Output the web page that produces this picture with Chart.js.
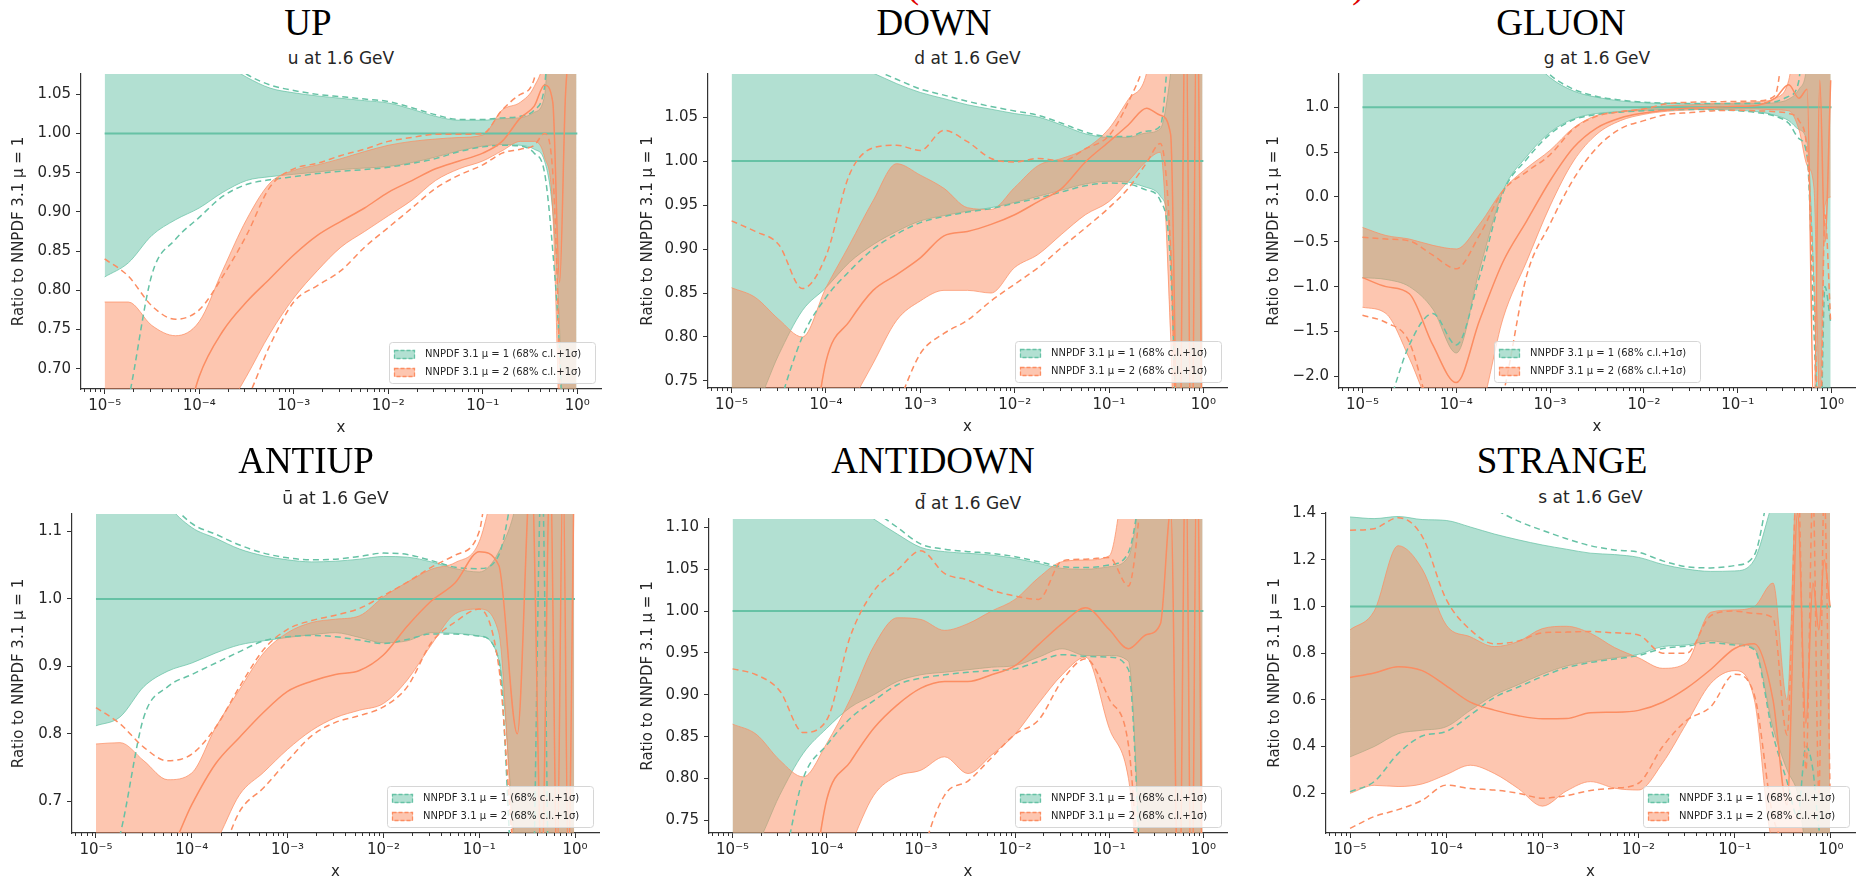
<!DOCTYPE html>
<html>
<head>
<meta charset="utf-8">
<title>NNPDF 3.1 ratios at 1.6 GeV</title>
<script src="https://cdn.jsdelivr.net/npm/chart.js@4.4.1/dist/chart.umd.min.js"></script>
<style>
  html, body { margin: 0; padding: 0; background: #fff; }
  body { position: relative; width: 1860px; height: 880px; overflow: hidden; font-family: "DejaVu Sans", sans-serif; }
  .flavour { position: absolute; font-family: "Liberation Serif", serif; font-size: 37px; line-height: 37px; color: #000; white-space: nowrap; transform: translateX(-50%); }
  .subtitle { position: absolute; font-size: 17px; line-height: 17px; color: #262626; white-space: nowrap; transform: translateX(-50%); }
  .paren { position: absolute; font-family: "Liberation Serif", serif; font-size: 40px; line-height: 40px; color: #e00000; }
  canvas { position: absolute; }
</style>
</head>
<body>
<div class="paren" style="left:906px; top:-36px;">(</div>
<div class="paren" style="left:1352px; top:-36px;">)</div>
<script>
// x values where every ratio is tabulated
const xGrid = [1e-5, 1.78e-5, 3.16e-5, 5.62e-5, 1e-4, 1.78e-4, 3.16e-4, 5.62e-4,
               1e-3, 1.78e-3, 3.16e-3, 5.62e-3, 1e-2, 1.78e-2, 3.16e-2, 5.62e-2,
               0.1, 0.16, 0.25, 0.35, 0.45, 0.55, 0.65, 0.75, 0.85, 0.98];
const xDecades = [1e-5, 1e-4, 1e-3, 1e-2, 1e-1, 1];
const xMin = 5.62e-6, xMax = 1.78;

// reference set is 1 by construction
const refX = [1e-5, 1];
const refRatio = [1, 1];

const flavours = ['UP', 'DOWN', 'GLUON', 'ANTIUP', 'ANTIDOWN', 'STRANGE'];
const subtitles = ['u at 1.6 GeV', 'd at 1.6 GeV', 'g at 1.6 GeV', '\u016b at 1.6 GeV', 'd\u0304 at 1.6 GeV', 's at 1.6 GeV'];
const legendLabels = ['NNPDF 3.1 \u03bc = 1 (68% c.l.+1\u03c3)', 'NNPDF 3.1 \u03bc = 2 (68% c.l.+1\u03c3)'];
const yTitle = 'Ratio to NNPDF 3.1 \u03bc = 1';

const upYTicks = [0.70, 0.75, 0.80, 0.85, 0.90, 0.95, 1.00, 1.05];
const downYTicks = [0.75, 0.80, 0.85, 0.90, 0.95, 1.00, 1.05];
const gluonYTicks = [-2.0, -1.5, -1.0, -0.5, 0.0, 0.5, 1.0];
const antiupYTicks = [0.7, 0.8, 0.9, 1.0, 1.1];
const antidownYTicks = [0.75, 0.80, 0.85, 0.90, 0.95, 1.00, 1.05, 1.10];
const strangeYTicks = [0.2, 0.4, 0.6, 0.8, 1.0, 1.2, 1.4];

// ---- up ----
const upRefHi    = [1.2, 1.2, 1.15, 1.12, 1.1, 1.09, 1.072, 1.058, 1.052, 1.048, 1.045, 1.042, 1.039, 1.031, 1.022, 1.017, 1.017, 1.019, 1.02, 1.027, 1.048, 1.2, 1.2, 1.2, 1.2, 1.2];
const upRefLo    = [0.817, 0.835, 0.87, 0.89, 0.905, 0.925, 0.94, 0.945, 0.948, 0.951, 0.954, 0.956, 0.958, 0.963, 0.970, 0.978, 0.984, 0.986, 0.985, 0.98, 0.965, 0.90, 0.75, 0.5, 0.3, 0.3];
const upRefSigHi = [1.2, 1.2, 1.16, 1.13, 1.11, 1.1, 1.076, 1.062, 1.055, 1.05, 1.047, 1.044, 1.041, 1.033, 1.024, 1.018, 1.018, 1.02, 1.022, 1.03, 1.06, 1.2, 1.2, 1.2, 1.2, 1.2];
const upRefSigLo = [0.55, 0.66, 0.82, 0.865, 0.893, 0.92, 0.935, 0.941, 0.945, 0.949, 0.952, 0.954, 0.957, 0.962, 0.968, 0.977, 0.983, 0.985, 0.984, 0.975, 0.95, 0.85, 0.72, 0.5, 0.3, 0.3];
const upMu2Hi    = [0.785, 0.785, 0.755, 0.742, 0.76, 0.826, 0.89, 0.937, 0.953, 0.96, 0.968, 0.977, 0.985, 0.99, 0.993, 0.995, 0.998, 1.03, 1.04, 1.06, 1.1, 1.2, 1.2, 1.2, 1.2, 1.2];
const upMu2Lo    = [0.5, 0.5, 0.5, 0.55, 0.6, 0.64, 0.69, 0.745, 0.79, 0.825, 0.855, 0.875, 0.895, 0.915, 0.94, 0.955, 0.965, 0.978, 0.99, 0.99, 0.97, 0.9, 0.6, 0.3, 0.3, 0.3];
const upMu2Mid   = [0.5, 0.5, 0.5, 0.58, 0.69, 0.748, 0.785, 0.815, 0.845, 0.87, 0.888, 0.905, 0.925, 0.94, 0.955, 0.965, 0.975, 0.99, 1.02, 1.035, 1.062, 1.04, 0.81, 1.05, 1.1, 1.1];
const upMu2SigHi = [0.84, 0.818, 0.78, 0.763, 0.775, 0.818, 0.87, 0.932, 0.955, 0.962, 0.972, 0.98, 0.99, 0.995, 0.999, 0.999, 1.0, 1.03, 1.05, 1.07, 1.2, 1.2, 1.2, 1.2, 1.2, 1.2];
const upMu2SigLo = [0.5, 0.5, 0.5, 0.5, 0.55, 0.62, 0.66, 0.73, 0.785, 0.806, 0.825, 0.855, 0.88, 0.905, 0.93, 0.947, 0.96, 0.975, 0.98, 0.985, 1.0, 0.95, 0.7, 0.3, 0.3, 0.3];

// ---- down ----
const downRefHi    = [1.2, 1.2, 1.2, 1.15, 1.13, 1.11, 1.1, 1.088, 1.078, 1.071, 1.064, 1.059, 1.054, 1.05, 1.041, 1.031, 1.027, 1.027, 1.032, 1.037, 1.1, 1.2, 1.2, 1.2, 1.2, 1.2];
const downRefLo    = [0.70, 0.72, 0.78, 0.83, 0.856, 0.885, 0.905, 0.92, 0.932, 0.938, 0.943, 0.947, 0.953, 0.96, 0.967, 0.974, 0.977, 0.976, 0.97, 0.96, 0.9, 0.6, 0.5, 0.5, 0.5, 0.5];
const downRefSigHi = [1.2, 1.2, 1.2, 1.16, 1.14, 1.12, 1.105, 1.093, 1.082, 1.075, 1.068, 1.062, 1.057, 1.052, 1.043, 1.033, 1.028, 1.028, 1.034, 1.04, 1.15, 1.2, 1.2, 1.2, 1.2, 1.2];
const downRefSigLo = [0.6, 0.62, 0.72, 0.80, 0.845, 0.875, 0.9, 0.917, 0.93, 0.937, 0.942, 0.946, 0.952, 0.958, 0.965, 0.972, 0.975, 0.974, 0.967, 0.955, 0.88, 0.6, 0.5, 0.5, 0.5, 0.5];
const downMu2Hi    = [0.856, 0.845, 0.82, 0.80, 0.856, 0.905, 0.955, 0.997, 0.984, 0.969, 0.947, 0.945, 0.97, 0.995, 1.003, 1.014, 1.037, 1.07, 1.1, 1.2, 1.2, 1.2, 1.2, 1.2, 1.2, 1.2];
const downMu2Lo    = [0.6, 0.6, 0.6, 0.62, 0.66, 0.72, 0.77, 0.819, 0.841, 0.853, 0.853, 0.85, 0.879, 0.894, 0.917, 0.939, 0.954, 0.977, 1.0, 1.01, 0.8, 0.5, 0.5, 0.5, 0.5, 0.5];
const downMu2Mid   = [0.5, 0.5, 0.5, 0.6, 0.772, 0.818, 0.853, 0.871, 0.89, 0.915, 0.92, 0.928, 0.939, 0.954, 0.969, 0.999, 1.022, 1.041, 1.06, 1.052, 1.03, 0.6, 1.2, 0.6, 1.2, 0.6];
const downMu2SigHi = [0.932, 0.92, 0.905, 0.855, 0.892, 0.985, 1.015, 1.018, 1.012, 1.035, 1.022, 1.003, 0.999, 1.003, 1.0, 1.014, 1.029, 1.067, 1.12, 1.2, 1.2, 1.2, 1.2, 1.2, 1.2, 1.2];
const downMu2SigLo = [0.55, 0.55, 0.55, 0.55, 0.6, 0.62, 0.66, 0.72, 0.781, 0.804, 0.819, 0.841, 0.86, 0.879, 0.902, 0.924, 0.947, 0.969, 0.998, 1.02, 0.9, 0.6, 0.6, 0.6, 0.6, 0.6];

// ---- gluon ----
const gluonRefHi    = [3, 3, 3, 3, 3, 2.5, 2, 1.6, 1.33, 1.18, 1.11, 1.07, 1.05, 1.04, 1.037, 1.037, 1.037, 1.04, 1.05, 1.09, 1.2, 1.5, 3, 3, 3, 3];
const gluonRefLo    = [-0.9, -0.92, -1.0, -1.25, -1.74, -0.8, 0.07, 0.45, 0.72, 0.87, 0.93, 0.95, 0.965, 0.975, 0.98, 0.975, 0.965, 0.95, 0.91, 0.85, 0.75, 0.6, -1.0, -3, -3, -3];
const gluonRefSigHi = [3, 3, 3, 3, 3, 2.6, 2.1, 1.65, 1.36, 1.2, 1.12, 1.08, 1.055, 1.045, 1.04, 1.04, 1.04, 1.045, 1.06, 1.12, 1.3, 3, 3, 3, 3, 3];
const gluonRefSigLo = [-3, -2.4, -1.65, -1.3, -1.65, -0.88, 0.05, 0.42, 0.7, 0.86, 0.92, 0.945, 0.96, 0.97, 0.975, 0.97, 0.96, 0.94, 0.9, 0.82, 0.65, 0.45, -1.5, -3, -1.0, -1.4];
const gluonMu2Hi    = [-0.34, -0.43, -0.47, -0.54, -0.58, -0.3, 0.08, 0.32, 0.52, 0.77, 0.91, 0.95, 0.985, 1.015, 1.025, 1.04, 1.05, 1.06, 1.1, 1.3, 2, 2, 2, 2, 2, 2];
const gluonMu2Lo    = [-1.23, -1.3, -1.8, -2.4, -2.6, -2.4, -1.35, -0.72, -0.1, 0.4, 0.7, 0.85, 0.92, 0.955, 0.97, 0.98, 0.98, 0.98, 0.97, 0.96, 0.75, 0.35, 0.1, -2.3, -0.1, 0.0];
const gluonMu2Mid   = [-0.9, -1.0, -1.08, -1.65, -2.07, -1.37, -0.72, -0.27, 0.18, 0.55, 0.77, 0.88, 0.935, 0.97, 0.99, 1.0, 1.01, 1.02, 1.1, 1.25, 1.1, 1.2, -2.5, 1.3, -0.5, 1.3];
const gluonMu2SigHi = [-0.45, -0.47, -0.49, -0.65, -0.8, -0.42, 0.07, 0.28, 0.47, 0.76, 0.9, 0.95, 0.98, 1.04, 1.055, 1.06, 1.065, 1.07, 1.13, 2, 2, 2, 2, 2, 2, 2];
const gluonMu2SigLo = [-1.32, -1.4, -1.62, -2.5, -3, -3, -2.2, -0.88, -0.3, 0.2, 0.55, 0.76, 0.85, 0.92, 0.94, 0.96, 0.965, 0.96, 0.95, 0.93, 0.85, 0.5, -1.0, -3, -0.2, -1.4];

// ---- antiup ----
const antiupRefHi    = [1.3, 1.3, 1.2, 1.14, 1.106, 1.09, 1.074, 1.064, 1.058, 1.055, 1.056, 1.059, 1.063, 1.062, 1.055, 1.045, 1.04, 1.07, 1.15, 1.3, 1.3, 1.3, 1.3, 1.3, 1.3, 1.3];
const antiupRefLo    = [0.812, 0.825, 0.87, 0.893, 0.905, 0.92, 0.932, 0.938, 0.943, 0.947, 0.95, 0.943, 0.935, 0.938, 0.95, 0.949, 0.945, 0.91, 0.6, 0.5, 0.5, 0.6, 0.6, 0.6, 0.6, 0.6];
const antiupRefSigHi = [1.3, 1.3, 1.22, 1.15, 1.112, 1.096, 1.08, 1.068, 1.061, 1.058, 1.059, 1.063, 1.068, 1.066, 1.057, 1.047, 1.045, 1.065, 1.2, 1.3, 1.3, 1.3, 1.3, 1.3, 1.3, 1.3];
const antiupRefSigLo = [0.55, 0.65, 0.825, 0.87, 0.888, 0.905, 0.922, 0.938, 0.944, 0.946, 0.944, 0.939, 0.934, 0.94, 0.948, 0.948, 0.945, 0.91, 0.5, 0.5, 1.2, 0.5, 0.5, 0.5, 0.5, 0.5];
const antiupMu2Hi    = [0.785, 0.787, 0.76, 0.732, 0.742, 0.81, 0.866, 0.92, 0.95, 0.965, 0.97, 0.975, 1.003, 1.025, 1.044, 1.054, 1.085, 1.2, 1.3, 1.3, 1.3, 1.3, 1.3, 1.3, 1.3, 1.3];
const antiupMu2Lo    = [0.6, 0.6, 0.6, 0.6, 0.6, 0.64, 0.71, 0.743, 0.777, 0.805, 0.824, 0.835, 0.845, 0.88, 0.932, 0.978, 0.985, 0.95, 0.6, 0.6, 0.6, 0.6, 0.6, 0.6, 0.6, 0.6];
const antiupMu2Mid   = [0.55, 0.55, 0.6, 0.62, 0.695, 0.756, 0.795, 0.832, 0.863, 0.878, 0.888, 0.894, 0.917, 0.96, 0.997, 1.024, 1.07, 1.05, 0.8, 1.2, 0.6, 1.2, 0.6, 1.2, 0.6, 1.2];
const antiupMu2SigHi = [0.839, 0.815, 0.78, 0.76, 0.77, 0.81, 0.87, 0.925, 0.955, 0.968, 0.976, 0.986, 1.005, 1.025, 1.047, 1.065, 1.1, 1.3, 1.3, 1.3, 1.3, 1.3, 1.3, 1.3, 1.3, 1.3];
const antiupMu2SigLo = [0.55, 0.55, 0.55, 0.55, 0.55, 0.6, 0.685, 0.72, 0.76, 0.797, 0.817, 0.827, 0.84, 0.87, 0.935, 0.966, 0.985, 0.9, 0.6, 0.6, 0.6, 0.6, 0.6, 0.6, 0.6, 0.6];

// ---- antidown ----
const antidownRefHi    = [1.3, 1.3, 1.25, 1.2, 1.15, 1.13, 1.11, 1.092, 1.076, 1.071, 1.069, 1.067, 1.063, 1.057, 1.051, 1.05, 1.053, 1.065, 1.2, 1.3, 1.3, 1.3, 1.3, 1.3, 1.3, 1.3];
const antidownRefLo    = [0.7, 0.72, 0.78, 0.83, 0.86, 0.885, 0.9, 0.916, 0.924, 0.927, 0.93, 0.933, 0.935, 0.945, 0.955, 0.947, 0.947, 0.94, 0.6, 0.6, 0.6, 0.6, 0.6, 0.6, 0.6, 0.6];
const antidownRefSigHi = [1.3, 1.3, 1.26, 1.22, 1.17, 1.14, 1.12, 1.1, 1.08, 1.074, 1.071, 1.069, 1.065, 1.059, 1.053, 1.052, 1.055, 1.07, 1.2, 1.3, 1.3, 1.3, 1.3, 1.3, 1.3, 1.3];
const antidownRefSigLo = [0.6, 0.62, 0.68, 0.8, 0.84, 0.872, 0.893, 0.912, 0.92, 0.924, 0.927, 0.929, 0.931, 0.94, 0.948, 0.946, 0.945, 0.93, 0.6, 0.6, 0.6, 0.6, 0.6, 0.6, 0.6, 0.6];
const antidownMu2Hi    = [0.865, 0.853, 0.822, 0.802, 0.842, 0.895, 0.958, 0.992, 0.99, 0.977, 0.985, 1.0, 1.014, 1.04, 1.059, 1.061, 1.066, 1.2, 1.3, 1.3, 1.3, 1.3, 1.3, 1.3, 1.3, 1.3];
const antidownMu2Lo    = [0.6, 0.6, 0.6, 0.62, 0.66, 0.72, 0.78, 0.803, 0.81, 0.826, 0.806, 0.828, 0.853, 0.89, 0.924, 0.945, 0.86, 0.8, 0.6, 0.6, 0.6, 0.6, 0.6, 0.6, 0.6, 0.6];
const antidownMu2Mid   = [0.5, 0.5, 0.5, 0.6, 0.775, 0.82, 0.86, 0.888, 0.908, 0.916, 0.916, 0.924, 0.935, 0.96, 0.985, 1.004, 0.978, 0.955, 0.972, 0.985, 1.12, 0.6, 1.2, 0.6, 1.2, 0.6];
const antidownMu2SigHi = [0.931, 0.924, 0.905, 0.855, 0.87, 0.97, 1.024, 1.049, 1.072, 1.045, 1.037, 1.025, 1.018, 1.014, 1.06, 1.062, 1.064, 1.03, 1.2, 1.3, 1.3, 1.3, 1.3, 1.3, 1.3, 1.3];
const antidownMu2SigLo = [0.55, 0.55, 0.55, 0.55, 0.55, 0.55, 0.55, 0.55, 0.7, 0.78, 0.797, 0.825, 0.853, 0.87, 0.917, 0.943, 0.895, 0.84, 0.6, 0.6, 0.6, 0.6, 0.6, 0.6, 0.6, 0.6];

// ---- strange ----
const strangeRefHi    = [1.383, 1.376, 1.385, 1.372, 1.368, 1.34, 1.31, 1.285, 1.263, 1.245, 1.228, 1.222, 1.21, 1.18, 1.16, 1.15, 1.152, 1.2, 1.45, 1.6, 1.6, 1.6, 1.6, 1.6, 1.6, 1.6];
const strangeRefLo    = [0.356, 0.40, 0.455, 0.47, 0.485, 0.555, 0.62, 0.665, 0.71, 0.745, 0.765, 0.78, 0.795, 0.828, 0.835, 0.852, 0.84, 0.82, 0.48, 0.3, 0.2, 0.0, 0.0, 0.0, 0.0, 0.0];
const strangeRefSigHi = [1.8, 1.8, 1.7, 1.6, 1.55, 1.5, 1.42, 1.365, 1.326, 1.29, 1.26, 1.242, 1.232, 1.195, 1.17, 1.165, 1.175, 1.22, 1.6, 1.8, 1.8, 1.8, 1.8, 1.8, 1.8, 1.8];
const strangeRefSigLo = [0.207, 0.25, 0.37, 0.445, 0.465, 0.535, 0.61, 0.655, 0.70, 0.738, 0.76, 0.775, 0.79, 0.82, 0.83, 0.845, 0.835, 0.815, 0.45, 0.25, 0.1, 0.4, 0.3, 0.05, 0.0, 0.0];
const strangeMu2Hi    = [0.9, 0.98, 1.26, 1.16, 0.92, 0.87, 0.828, 0.85, 0.905, 0.915, 0.885, 0.824, 0.78, 0.735, 0.76, 0.975, 0.985, 1.0, 1.1, 0.6, 1.6, 1.6, 1.6, 1.6, 1.6, 1.6];
const strangeMu2Lo    = [0.2, 0.234, 0.229, 0.24, 0.28, 0.32, 0.285, 0.22, 0.145, 0.21, 0.25, 0.222, 0.214, 0.33, 0.5, 0.67, 0.725, 0.6, 0.0, 0.0, 0.0, 0.0, 0.0, 0.0, 0.0, 0.0];
const strangeMu2Mid   = [0.696, 0.715, 0.742, 0.725, 0.66, 0.59, 0.556, 0.532, 0.519, 0.52, 0.545, 0.547, 0.555, 0.59, 0.65, 0.73, 0.82, 0.84, 0.6, 0.15, 1.4, 0.5, 1.1, 0.9, 1.2, 1.0];
const strangeMu2SigHi = [1.326, 1.333, 1.38, 1.30, 1.03, 0.9, 0.84, 0.852, 0.887, 0.89, 0.893, 0.887, 0.878, 0.8, 0.8, 0.96, 0.98, 0.97, 0.95, 0.45, 1.6, 0.3, 1.5, 0.2, 1.5, 0.2];
const strangeMu2SigLo = [0.05, 0.1, 0.13, 0.17, 0.235, 0.22, 0.214, 0.2, 0.179, 0.19, 0.212, 0.222, 0.243, 0.4, 0.512, 0.57, 0.71, 0.62, 0.1, 0.0, 0.0, 0.0, 0.0, 0.0, 0.0, 0.0];

// colours (seaborn Set2)
var GREEN = '#66c2a5', ORANGE = '#fc8d62';
var GREEN_FILL = 'rgba(102,194,165,0.5)', ORANGE_FILL = 'rgba(252,141,98,0.5)';
var GREEN_EDGE = 'rgba(102,194,165,0.9)', ORANGE_EDGE = 'rgba(252,141,98,0.9)';
var AXIS = '#333333', TEXT = '#262626';

// chart area of each panel: [left, top, right, bottom]
var panels = [
  { area: [81, 72, 601, 389],    labelX: 19,   titleX: 308,  titleBase: 35,  y: [0.674, 1.076], yTicks: upYTicks, dec: 2, legend: 'right',
    ref: [upRefLo, upRefHi, upRefSigLo, upRefSigHi], mu2: [upMu2Lo, upMu2Hi, upMu2Mid, upMu2SigLo, upMu2SigHi] },
  { area: [708, 72, 1227, 388],  labelX: 648,  titleX: 934,  titleBase: 35,  y: [0.742, 1.099], yTicks: downYTicks, dec: 2, legend: 'right',
    ref: [downRefLo, downRefHi, downRefSigLo, downRefSigHi], mu2: [downMu2Lo, downMu2Hi, downMu2Mid, downMu2SigLo, downMu2SigHi] },
  { area: [1339, 72, 1855, 388], labelX: 1274, titleX: 1561, titleBase: 35,  y: [-2.13, 1.37], yTicks: gluonYTicks, dec: 1, legend: 'center',
    ref: [gluonRefLo, gluonRefHi, gluonRefSigLo, gluonRefSigHi], mu2: [gluonMu2Lo, gluonMu2Hi, gluonMu2Mid, gluonMu2SigLo, gluonMu2SigHi] },
  { area: [72, 512, 599, 833],   labelX: 19,   titleX: 306,  titleBase: 473, y: [0.653, 1.126], yTicks: antiupYTicks, dec: 1, legend: 'right',
    ref: [antiupRefLo, antiupRefHi, antiupRefSigLo, antiupRefSigHi], mu2: [antiupMu2Lo, antiupMu2Hi, antiupMu2Mid, antiupMu2SigLo, antiupMu2SigHi] },
  { area: [709, 517, 1227, 833], labelX: 648,  titleX: 933,  titleBase: 473, y: [0.735, 1.11], yTicks: antidownYTicks, dec: 2, legend: 'right',
    ref: [antidownRefLo, antidownRefHi, antidownRefSigLo, antidownRefSigHi], mu2: [antidownMu2Lo, antidownMu2Hi, antidownMu2Mid, antidownMu2SigLo, antidownMu2SigHi] },
  { area: [1326, 511, 1855, 833], labelX: 1275, titleX: 1562, titleBase: 473, y: [0.03, 1.40], yTicks: strangeYTicks, dec: 1, legend: 'right',
    ref: [strangeRefLo, strangeRefHi, strangeRefSigLo, strangeRefSigHi], mu2: [strangeMu2Lo, strangeMu2Hi, strangeMu2Mid, strangeMu2SigLo, strangeMu2SigHi] }
];

var PAD_T = 12, PAD_R = 4, X_H = 52;

function pts(xs, ys) {
  return xs.map(function (x, i) { return { x: x, y: ys[i] }; });
}

function isDecade(v) {
  var e = Math.log10(v);
  return Math.abs(e - Math.round(e)) < 1e-6;
}

var SUP = { '-': '\u207b', '0': '\u2070', '1': '\u00b9', '2': '\u00b2', '3': '\u00b3', '4': '\u2074', '5': '\u2075' };
function powLabel(v) {
  return '10' + String(Math.round(Math.log10(v))).split('').map(function (c) { return SUP[c]; }).join('');
}

// decades plus the 2..9 marks between them
var xTickValues = [];
[1e-6].concat(xDecades).forEach(function (d) {
  for (var k = 1; k <= 9; k++) {
    var v = k * d;
    if (v >= xMin && v <= xMax) xTickValues.push(v);
  }
});

// short minor ticks on the log axis
const minorTicks = {
  id: 'minorTicks',
  afterDraw(chart) {
    const s = chart.scales.x, ctx = chart.ctx;
    ctx.save();
    ctx.strokeStyle = AXIS;
    ctx.lineWidth = 1;
    s.ticks.forEach(function (t) {
      if (isDecade(t.value)) return;
      const px = Math.round(s.getPixelForValue(t.value)) + 0.5;
      ctx.beginPath();
      ctx.moveTo(px, s.top);
      ctx.lineTo(px, s.top + 3);
      ctx.stroke();
    });
    ctx.restore();
  }
};

// matplotlib-like legend box inside the axes
const bandLegend = {
  id: 'bandLegend',
  afterDraw(chart, args, opts) {
    const ctx = chart.ctx, a = chart.chartArea;
    const w = 206, h = 41;
    const x0 = opts.loc === 'center' ? (a.left + a.right) / 2 - w / 2 : a.right - 6 - w;
    const y0 = a.bottom - 6 - h;
    ctx.save();
    ctx.beginPath();
    ctx.roundRect(x0 + 0.5, y0 + 0.5, w, h, 3);
    ctx.fillStyle = 'rgba(255,255,255,0.8)';
    ctx.fill();
    ctx.strokeStyle = '#d6d6d6';
    ctx.lineWidth = 1;
    ctx.stroke();
    ctx.font = '10px "DejaVu Sans"';
    ctx.textBaseline = 'middle';
    opts.items.forEach(function (it, i) {
      const cy = y0 + 12 + i * 18;
      ctx.fillStyle = it.fill;
      ctx.fillRect(x0 + 5, cy - 4, 21, 9);
      ctx.setLineDash([4, 2]);
      ctx.strokeStyle = it.line;
      ctx.lineWidth = 1.3;
      ctx.strokeRect(x0 + 5.5, cy - 3.5, 20, 8);
      ctx.setLineDash([]);
      ctx.fillStyle = TEXT;
      ctx.fillText(it.text, x0 + 36, cy + 0.5);
    });
    ctx.restore();
  }
};

// higher `order` is painted first: green band, then orange band, then the curves
function buildDatasets(p) {
  var r = p.ref, m = p.mu2;
  var base = { pointRadius: 0, cubicInterpolationMode: 'monotone', clip: 0 };
  function ds(extra) { return Object.assign({}, base, extra); }
  return [
    ds({ order: 10, data: pts(xGrid, r[0]), borderColor: GREEN_EDGE, borderWidth: 0.8, fill: false }),
    ds({ order: 10, label: legendLabels[0], data: pts(xGrid, r[1]), borderColor: GREEN_EDGE, borderWidth: 0.8, fill: '-1', backgroundColor: GREEN_FILL }),
    ds({ order: 8, data: pts(xGrid, m[0]), borderColor: ORANGE_EDGE, borderWidth: 0.8, fill: false }),
    ds({ order: 8, label: legendLabels[1], data: pts(xGrid, m[1]), borderColor: ORANGE_EDGE, borderWidth: 0.8, fill: '-1', backgroundColor: ORANGE_FILL }),
    ds({ order: 6, data: pts(refX, refRatio), borderColor: GREEN, borderWidth: 2, fill: false }),
    ds({ order: 5, data: pts(xGrid, r[3]), borderColor: GREEN, borderWidth: 1.5, borderDash: [6, 4], fill: false }),
    ds({ order: 5, data: pts(xGrid, r[2]), borderColor: GREEN, borderWidth: 1.5, borderDash: [6, 4], fill: false }),
    ds({ order: 2, data: pts(xGrid, m[2]), borderColor: ORANGE, borderWidth: 1.5, fill: false }),
    ds({ order: 3, data: pts(xGrid, m[4]), borderColor: ORANGE, borderWidth: 1.5, borderDash: [6, 4], fill: false }),
    ds({ order: 3, data: pts(xGrid, m[3]), borderColor: ORANGE, borderWidth: 1.5, borderDash: [6, 4], fill: false })
  ];
}

panels.forEach(function (p, i) {
  var L = p.area[0], T = p.area[1], R = p.area[2], B = p.area[3];
  var yW = L - p.labelX + 13;

  var title = document.createElement('div');
  title.className = 'flavour';
  title.textContent = flavours[i];
  title.style.left = p.titleX + 'px';
  title.style.top = (p.titleBase - 31) + 'px';
  document.body.appendChild(title);

  var sub = document.createElement('div');
  sub.className = 'subtitle';
  sub.textContent = subtitles[i];
  sub.style.left = ((L + R) / 2) + 'px';
  sub.style.top = (T - 22) + 'px';
  document.body.appendChild(sub);

  var cv = document.createElement('canvas');
  cv.width = R - L + yW + PAD_R;
  cv.height = B - T + PAD_T + X_H;
  cv.style.left = (L - yW) + 'px';
  cv.style.top = (T - PAD_T) + 'px';
  document.body.appendChild(cv);

  new Chart(cv, {
    type: 'line',
    data: { datasets: buildDatasets(p) },
    plugins: [minorTicks, bandLegend],
    options: {
      responsive: false,
      animation: false,
      events: [],
      layout: { padding: { top: PAD_T, right: PAD_R, left: 0, bottom: 0 } },
      plugins: {
        legend: { display: false },
        tooltip: { enabled: false },
        bandLegend: {
          loc: p.legend,
          items: [
            { text: legendLabels[0], fill: GREEN_FILL, line: GREEN },
            { text: legendLabels[1], fill: ORANGE_FILL, line: ORANGE }
          ]
        }
      },
      scales: {
        x: {
          type: 'logarithmic',
          min: xMin,
          max: xMax,
          afterBuildTicks: function (s) {
            s.ticks = xTickValues.map(function (v) { return { value: v, major: isDecade(v) }; });
          },
          afterFit: function (s) { s.height = X_H; },
          grid: {
            drawOnChartArea: false,
            tickLength: 5,
            tickWidth: 1,
            tickColor: function (c) { return c.tick && isDecade(c.tick.value) ? AXIS : 'rgba(0,0,0,0)'; }
          },
          border: { display: true, color: AXIS, width: 1.2 },
          ticks: {
            autoSkip: false,
            maxRotation: 0,
            minRotation: 0,
            padding: 3,
            color: TEXT,
            font: { family: 'DejaVu Sans', size: 15 },
            callback: function (v) { return isDecade(v) ? powLabel(v) : ''; }
          },
          title: {
            display: true,
            text: 'x',
            color: TEXT,
            font: { family: 'DejaVu Sans', size: 15 },
            padding: { top: 0, bottom: 4 }
          }
        },
        y: {
          type: 'linear',
          min: p.y[0],
          max: p.y[1],
          afterBuildTicks: function (s) {
            s.ticks = p.yTicks.map(function (v) { return { value: v }; });
          },
          afterFit: function (s) { s.width = yW; },
          grid: { drawOnChartArea: false, tickLength: 5, tickWidth: 1, tickColor: AXIS },
          border: { display: true, color: AXIS, width: 1.2 },
          ticks: {
            padding: 5,
            color: TEXT,
            font: { family: 'DejaVu Sans', size: 15 },
            callback: function (v) { return v.toFixed(p.dec).replace('-', '\u2212'); }
          },
          title: {
            display: true,
            text: yTitle,
            color: TEXT,
            font: { family: 'DejaVu Sans', size: 15 },
            padding: { top: 4, bottom: 4 }
          }
        }
      }
    }
  });
});
</script>
</body>
</html>
